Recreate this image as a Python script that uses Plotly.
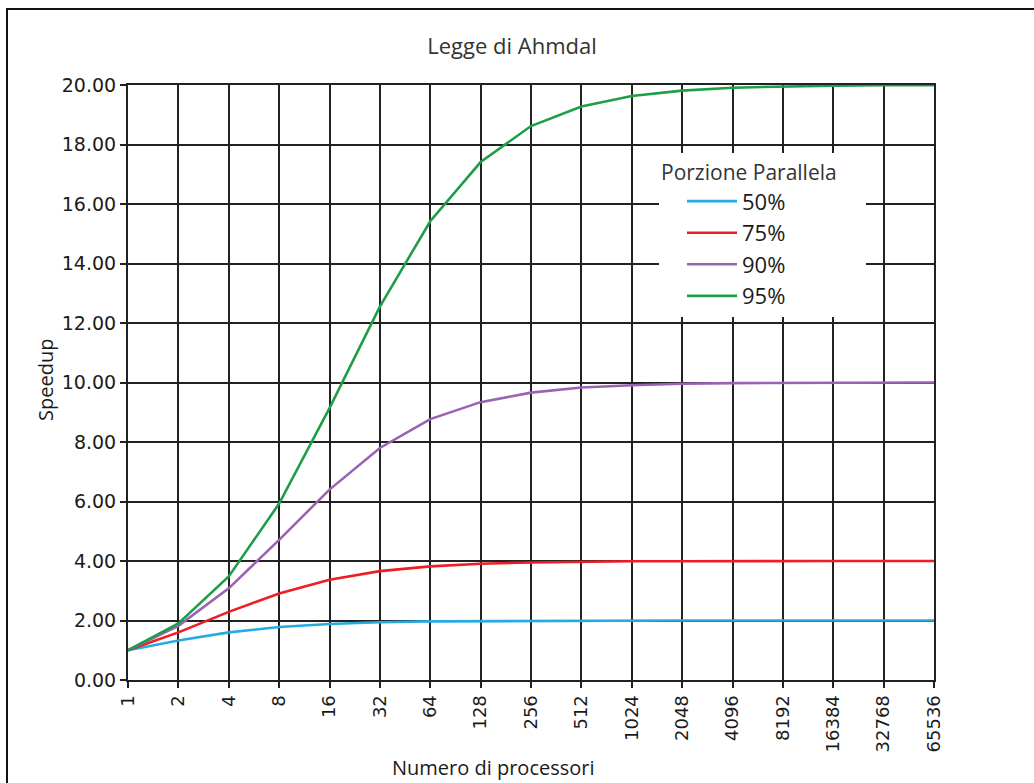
import plotly.graph_objects as go

processori = ["1", "2", "4", "8", "16", "32", "64", "128", "256", "512", "1024",
              "2048", "4096", "8192", "16384", "32768", "65536"]
serie_nomi = ["50%", "75%", "90%", "95%"]
speedup_50 = [1.00, 1.33, 1.60, 1.78, 1.88, 1.94, 1.97, 1.98, 1.99, 2.00, 2.00,
              2.00, 2.00, 2.00, 2.00, 2.00, 2.00]
speedup_75 = [1.00, 1.60, 2.29, 2.91, 3.37, 3.66, 3.82, 3.91, 3.95, 3.98, 3.99,
              3.99, 4.00, 4.00, 4.00, 4.00, 4.00]
speedup_90 = [1.00, 1.82, 3.08, 4.71, 6.40, 7.80, 8.77, 9.34, 9.66, 9.83, 9.91,
              9.96, 9.98, 9.99, 9.99, 10.00, 10.00]
speedup_95 = [1.00, 1.90, 3.48, 5.93, 9.14, 12.55, 15.42, 17.41, 18.62, 19.28, 19.63,
              19.81, 19.91, 19.95, 19.98, 19.99, 19.99]
colori = ["#27aae1", "#ee1c25", "#9a62b3", "#1f9e48"]

W, H = 1034, 783
L, R, T, B = 128, 934, 85, 680  # plot area in page px


def px_x(px):
    return (px - L) / (R - L)


def px_y(py):
    return (B - py) / (B - T)


fig = go.Figure()
for nome, valori, col in zip(serie_nomi, [speedup_50, speedup_75, speedup_90, speedup_95], colori):
    fig.add_trace(go.Scatter(x=processori, y=valori, mode="lines", name=nome,
                             line=dict(color=col, width=2.6)))

fig.update_layout(
    width=W, height=H,
    margin=dict(l=L, r=W - R, t=T, b=H - B),
    paper_bgcolor="white", plot_bgcolor="white",
    title=dict(text="Legge di Ahmdal", x=512 / W, xref="container", xanchor="center",
               y=1 - 46 / H, yref="container", yanchor="middle",
               font=dict(family="Open Sans", size=22, color="#333333")),
    xaxis=dict(type="category", range=[0, 16], showgrid=True, gridcolor="#222222", gridwidth=2,
               showline=True, linecolor="#222222", linewidth=2, mirror=True,
               ticks="outside", ticklen=6, tickwidth=2, tickcolor="#222222",
               tickangle=-90, tickfont=dict(family="DejaVu Sans", size=18, color="#1a1a1a"),
               zeroline=False),
    yaxis=dict(range=[0, 20], dtick=2, tickformat=".2f", showgrid=True, gridcolor="#222222",
               gridwidth=2, showline=True, linecolor="#222222", linewidth=2, mirror=True,
               ticks="outside", ticklen=6, tickwidth=2, tickcolor="#222222",
               tickfont=dict(family="DejaVu Sans", size=19, color="#1a1a1a"), zeroline=False),
    legend=dict(x=px_x(659), y=px_y(153), xanchor="left", yanchor="top",
                bgcolor="white", borderwidth=0,
                title=dict(text="Porzione Parallela\u00a0\u00a0\u00a0\u00a0\u00a0",
                           font=dict(family="Open Sans", size=21, color="#333333")),
                font=dict(family="Open Sans", size=22, color="#1a1a1a"),
                itemwidth=50, indentation=23, tracegroupgap=0),
    showlegend=True,
)

fig.add_annotation(text="Speedup", x=px_x(45), y=px_y(380), xref="paper", yref="paper",
                   xanchor="center", yanchor="middle",
                   showarrow=False, textangle=-90,
                   font=dict(family="Open Sans", size=20, color="#1a1a1a"))
fig.add_annotation(text="Numero di processori", x=px_x(493), y=px_y(767), xref="paper", yref="paper",
                   xanchor="center", yanchor="middle",
                   showarrow=False,
                   font=dict(family="Open Sans", size=20, color="#1a1a1a"))

fig.add_shape(type="rect", xref="paper", yref="paper",
              x0=px_x(7), x1=px_x(1045), y0=px_y(9), y1=px_y(795),
              line=dict(color="#111111", width=2), layer="below")

fig.write_html("out.html", config={"displayModeBar": False},
               post_script="document.body.style.margin='0';")
